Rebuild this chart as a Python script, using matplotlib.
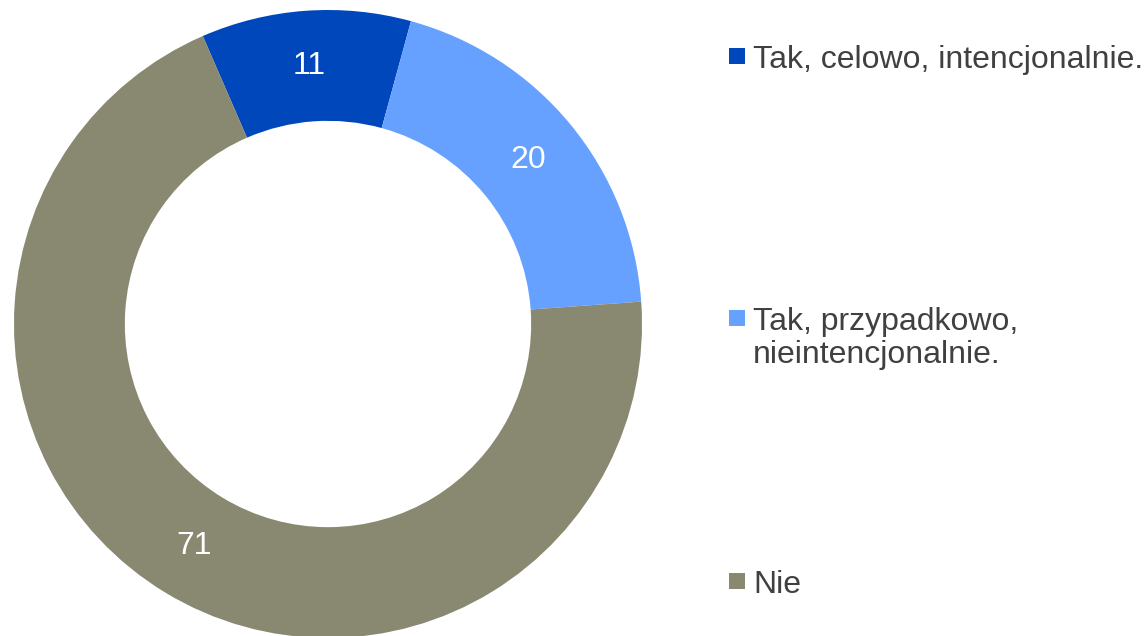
import matplotlib.pyplot as plt
from matplotlib.lines import Line2D

plt.rcParams['font.family'] = ['Liberation Sans', 'DejaVu Sans']

labels = ["Tak, celowo, intencjonalnie.", "Tak, przypadkowo,\nnieintencjonalnie.", "Nie"]
values = [11, 20, 71]
colors = ["#0047BB", "#66A1FF", "#898870"]

W, H = 1147, 636
fig = plt.figure(figsize=(W / 100, H / 100), dpi=100)

# donut, centre ~(328, 324) px, outer radius ~314 px
ax = fig.add_axes([14 / W, (H - 638) / H, 628 / W, 628 / H])
total = sum(values)
ax.pie(values, colors=colors, startangle=113.5, counterclock=False, radius=1,
       wedgeprops=dict(width=0.353, linewidth=0),
       autopct=lambda p: f"{p * total / 100:.0f}", pctdistance=0.825,
       textprops=dict(color='white', fontsize=23))
ax.set_xlim(-1, 1)
ax.set_ylim(-1, 1)

handles = [Line2D([], [], ls='none', marker='s', markersize=11.5, color=c, markeredgewidth=0)
           for c in colors]
tops = [45, 307, 570]
for h, lab, top in zip(handles, labels, tops):
    leg = fig.legend([h], [lab], loc='upper left', bbox_to_anchor=(726 / W, 1 - top / H),
                     frameon=False, fontsize=23, handlelength=0.67, handleheight=0.7,
                     handletextpad=0.18, borderpad=0, borderaxespad=0, labelcolor='#404040')
    leg.get_texts()[0].set_linespacing(1.15)
    # square next to the first line, not centred on the whole label
    for col in leg._legend_handle_box.get_children():
        for row in col.get_children():
            row.align = 'top'

fig.savefig('out.png', dpi=100)
